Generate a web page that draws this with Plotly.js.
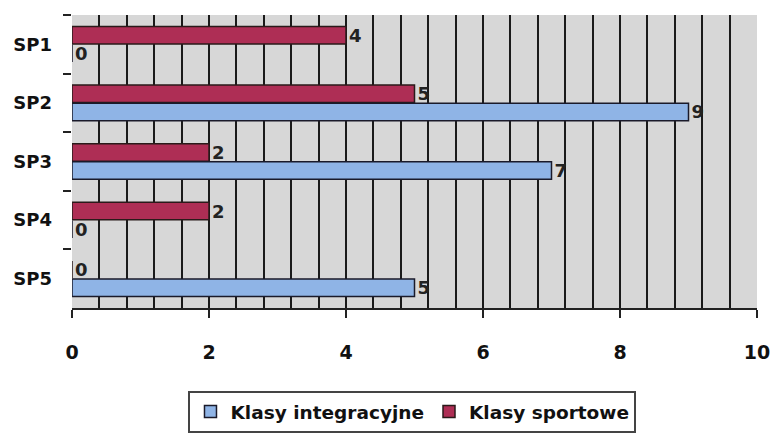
<!DOCTYPE html>
<html>
<head>
<meta charset="utf-8">
<script src="https://cdn.plot.ly/plotly-3.0.1.min.js"></script>
<style>html,body{margin:0;padding:0;background:#fff;}#chart{width:771px;height:435px;}</style>
</head>
<body>
<div id="chart"></div>
<script>
const categories = ["SP1", "SP2", "SP3", "SP4", "SP5"];
const integracyjne = [0, 9, 7, 0, 5];
const sportowe = [4, 5, 2, 2, 0];
const seriesNames = ["Klasy integracyjne", "Klasy sportowe"];
const xTicks = [0, 2, 4, 6, 8, 10];

const FONT = "'DejaVu Sans', 'Noto Sans', sans-serif";
const labelFont = {family: FONT, size: 18, color: "#222", weight: "bold"};

const traces = [
  {
    type: "bar", orientation: "h", name: seriesNames[1],
    y: categories, x: sportowe,
    text: sportowe.map(String), textposition: "outside", constraintext: "none",
    textfont: labelFont, cliponaxis: false,
    marker: {color: "#AE2E55", line: {color: "#2a1a1a", width: 1.5}},
    legendrank: 2
  },
  {
    type: "bar", orientation: "h", name: seriesNames[0],
    y: categories, x: integracyjne,
    text: integracyjne.map(String), textposition: "outside", constraintext: "none",
    textfont: labelFont, cliponaxis: false,
    marker: {color: "#8FB4E6", line: {color: "#1a1a2a", width: 1.5}},
    legendrank: 1
  }
];

const layout = {
  width: 771, height: 435,
  margin: {l: 72, r: 14, t: 15, b: 127, autoexpand: false},
  paper_bgcolor: "#ffffff",
  plot_bgcolor: "#D7D7D7",
  barmode: "group",
  bargap: 0.38,
  bargroupgap: 0.04,
  showlegend: true,
  legend: {
    orientation: "h", x: 0.535, xref: "container", xanchor: "center",
    y: 0.053, yref: "container", yanchor: "middle",
    font: {family: FONT, size: 18.5, color: "#111", weight: "bold"},
    bordercolor: "#444", borderwidth: 2, bgcolor: "#fff",
    itemwidth: 30
  },
  xaxis: {
    range: [0, 10], tickvals: xTicks, ticktext: xTicks.map(String),
    showgrid: true, gridcolor: "#1a1a1a", gridwidth: 2,
    minor: {dtick: 0.4, tick0: 0, showgrid: true, gridcolor: "#1a1a1a", gridwidth: 2},
    ticks: "outside", ticklen: 8, tickwidth: 2, tickcolor: "#222",
    showline: true, linecolor: "#222", linewidth: 2,
    zeroline: false, automargin: false,
    tickfont: {family: FONT, size: 19, color: "#111", weight: "bold"},
    ticklabelstandoff: 18
  },
  yaxis: {
    type: "category", autorange: "reversed",
    tickson: "boundaries", ticks: "outside", ticklen: 8, tickwidth: 2, tickcolor: "#222",
    showgrid: false, showline: false, zeroline: false, automargin: false,
    tickfont: {family: FONT, size: 18, color: "#111", weight: "bold"},
    ticklabelstandoff: 19
  },
  font: {family: FONT}
};

Plotly.newPlot("chart", traces, layout, {displayModeBar: false, staticPlot: true});
</script>
</body>
</html>
